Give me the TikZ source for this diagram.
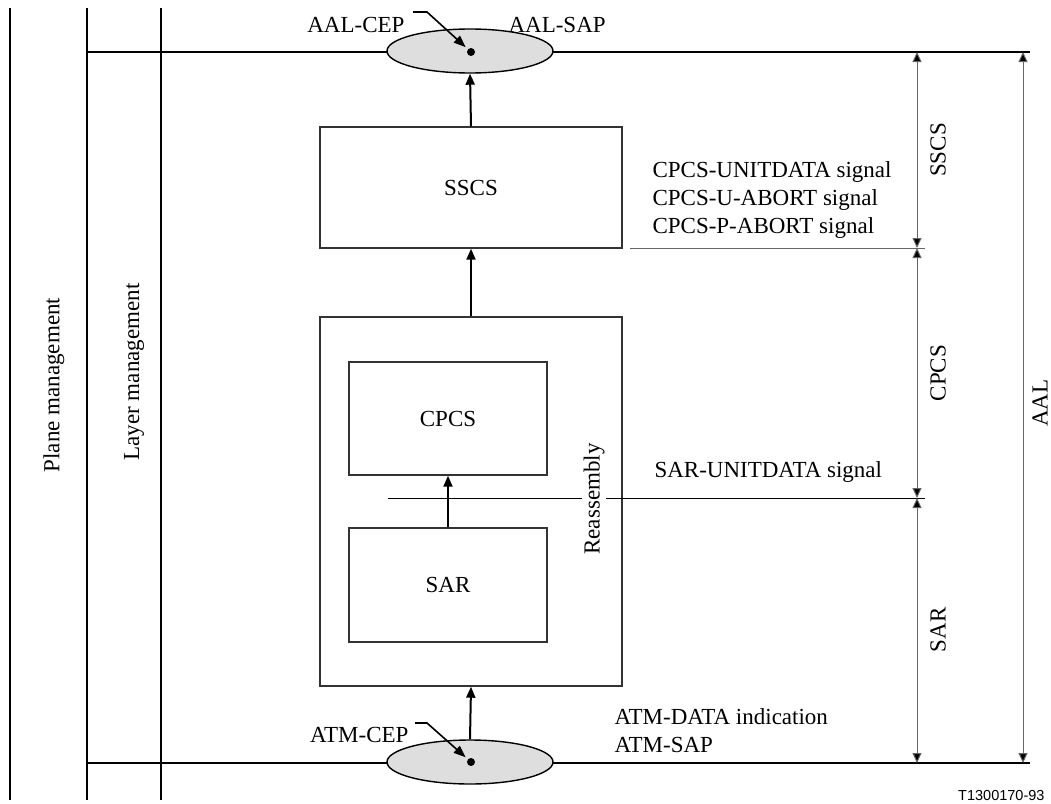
\documentclass[tikz,border=0pt]{standalone}
\usepackage{fontspec}
\setmainfont{Liberation Serif}
\newfontfamily\idfont{Liberation Sans}
\usetikzlibrary{arrows.meta,positioning,shapes.geometric}
\tikzset{
    every picture/.style={
        x=1pt, y=-1pt,
        font=\fontsize{23}{28}\selectfont,
        >={Triangle[length=11pt,width=9pt]}
    },
    % boxes and access points
    layerbox/.style={rectangle,draw=black!80,line width=1.4pt,inner sep=0pt},
    sapoval/.style={ellipse,draw=black,fill=black!13,line width=1.4pt,minimum width=166pt,minimum height=44pt,inner sep=0pt},
    cepdot/.style={circle,fill=black,inner sep=0pt,minimum size=8pt},
    % lines
    busline/.style={line width=2pt},
    flow/.style={->,line width=2pt},
    leader/.style={->,line width=1.6pt,shorten >=3pt,>={Triangle[length=12pt,width=9pt]}},
    dimline/.style={<->,line width=1pt,black!60,>={Triangle[length=10pt,width=9pt,fill=black]}},
    sigtext/.style={anchor=base west}
}
\begin{document}
\begin{tikzpicture}
    \useasboundingbox (0,0) rectangle (1051,803);

    % Management planes
    \foreach \xv in {10,87,161}
        \draw[busline] (\xv,8) -- (\xv,800);
    \node[rotate=90] (planemgmt) at (54,385) {Plane management};
    \node[rotate=90] (layermgmt) at (134,372) {Layer management};

    % SAP lines
    \draw[busline] (87,52) -- (1030,52);
    \draw[busline] (87,763) -- (1030,763);

    % Access points
    \node[sapoval] (aalsap) at (470,51) {};
    \node[sapoval] (atmsap) at (470,762) {};
    \node[cepdot] (aaldot) at (471,52) {};
    \node[cepdot] (atmdot) at (471,762) {};

    \node[anchor=base east] (aalcep) at (408,32) {AAL-CEP};
    \node[anchor=base west] (aalsaptxt) at (505,32) {AAL-SAP};
    \node[anchor=base east] (atmcep) at (412,742) {ATM-CEP};

    \coordinate (aalstart) at (413,12);
    \coordinate (aalbend) at (427,12);
    \draw[leader] (aalstart) -- (aalbend) -- (aaldot);
    \coordinate (atmstart) at (415,723);
    \coordinate (atmbend) at (427,723);
    \draw[leader] (atmstart) -- (atmbend) -- (atmdot);

    % Layer boxes
    \node[layerbox,minimum width=302pt,minimum height=121pt] (sscs) at (471,187.5) {SSCS};
    \node[layerbox,minimum width=302pt,minimum height=369pt] (reasm) at (471,501.5) {};
    \node[layerbox,minimum width=198pt,minimum height=113pt] (cpcs) at (448,418.5) {CPCS};
    \node[layerbox,minimum width=198pt,minimum height=114pt] (sar) at (448,585) {SAR};

    % Flows
    \draw[flow] (sscs.north) -- (aalsap.south);
    \draw[flow] (reasm.north) -- (sscs.south);
    \draw[flow] (sar.north) -- (cpcs.south);
    \draw[flow] (atmsap.north) -- (reasm.south);

    % Boundaries
    \coordinate (sscsend) at (630,248);
    \coordinate (sscsdim) at (925,248);
    \draw[line width=1pt,black!60] (sscsend) -- (sscsdim);
    \coordinate (sarstart) at (388,498);
    \coordinate (sardim) at (925,498);
    \draw[line width=1pt] (sarstart) -- (sardim);
    \node[rotate=90,fill=white,inner sep=2pt] (reasmtxt) at (594,499) {Reassembly};

    % Primitives
    \node[sigtext] (unitdata) at (649,177) {CPCS-UNITDATA signal};
    \node[sigtext] (uabort) at (649,205) {CPCS-U-ABORT signal};
    \node[sigtext] (pabort) at (649,233) {CPCS-P-ABORT signal};
    \node[sigtext] (sarunit) at (651,477) {SAR-UNITDATA signal};
    \node[sigtext] (atmdata) at (611,724) {ATM-DATA indication};
    \node[sigtext] (atmsaptxt) at (611,752) {ATM-SAP};

    % Sublayer extents
    \coordinate (d0) at (917,52);
    \coordinate (d1) at (917,248);
    \coordinate (d2) at (917,498);
    \coordinate (d3) at (917,763);
    \draw[dimline] (d0) -- (d1);
    \draw[dimline] (d1) -- (d2);
    \draw[dimline] (d2) -- (d3);
    \node[rotate=90] (sscslbl) at (938,150) {SSCS};
    \node[rotate=90] (cpcslbl) at (938,373) {CPCS};
    \node[rotate=90] (sarlbl) at (938,630) {SAR};

    \coordinate (aaltop) at (1023,52);
    \coordinate (aalbot) at (1023,763);
    \draw[dimline] (aaltop) -- (aalbot);
    \node[rotate=90] (aallbl) at (1040,403) {AAL};

    \node[anchor=base east,font=\idfont\fontsize{14.5}{17}\selectfont] (figid) at (1048,800) {T1300170-93};
\end{tikzpicture}
\end{document}
